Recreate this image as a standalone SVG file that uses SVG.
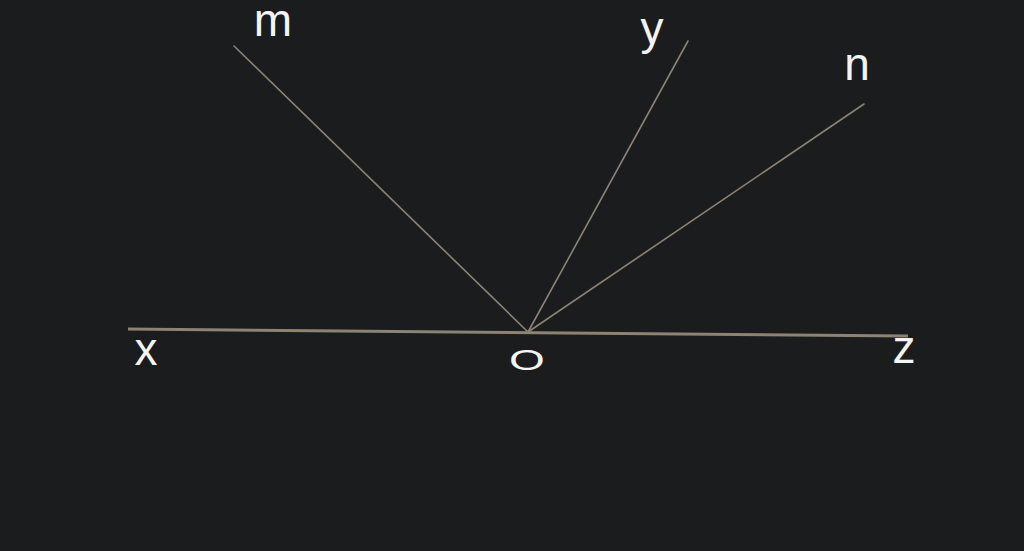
<svg xmlns="http://www.w3.org/2000/svg" width="1024" height="551" viewBox="0 0 1024 551">
<style>
.ray{stroke:#8c8373;stroke-width:1.6;fill:none;stroke-linecap:round}
.base{stroke:#8c8373;stroke-width:3;fill:none}
.lbl{font-family:"Liberation Sans",Arial,sans-serif;font-size:46px;fill:#f4f4f4;text-anchor:middle}
</style>
<rect width="1024" height="551" fill="#1b1c1e"/>
<g id="connectors">
<line class="base" x1="128" y1="329" x2="908" y2="336"/>
<line class="ray" x1="528" y1="332" x2="234" y2="46"/>
<line class="ray" x1="528" y1="332" x2="688" y2="41"/>
<line class="ray" x1="528" y1="332" x2="864" y2="104"/>
</g>
<g id="m"><text class="lbl" x="273" y="36">m</text></g>
<g id="y"><text class="lbl" x="652" y="44">y</text></g>
<g id="n"><text class="lbl" x="857" y="80">n</text></g>
<g id="x"><text class="lbl" x="146" y="365">x</text></g>
<g id="z"><text class="lbl" x="904" y="363">z</text></g>
<g id="O"><text class="lbl" transform="translate(527,370) scale(1,0.64)" x="0" y="0">O</text></g>
</svg>
